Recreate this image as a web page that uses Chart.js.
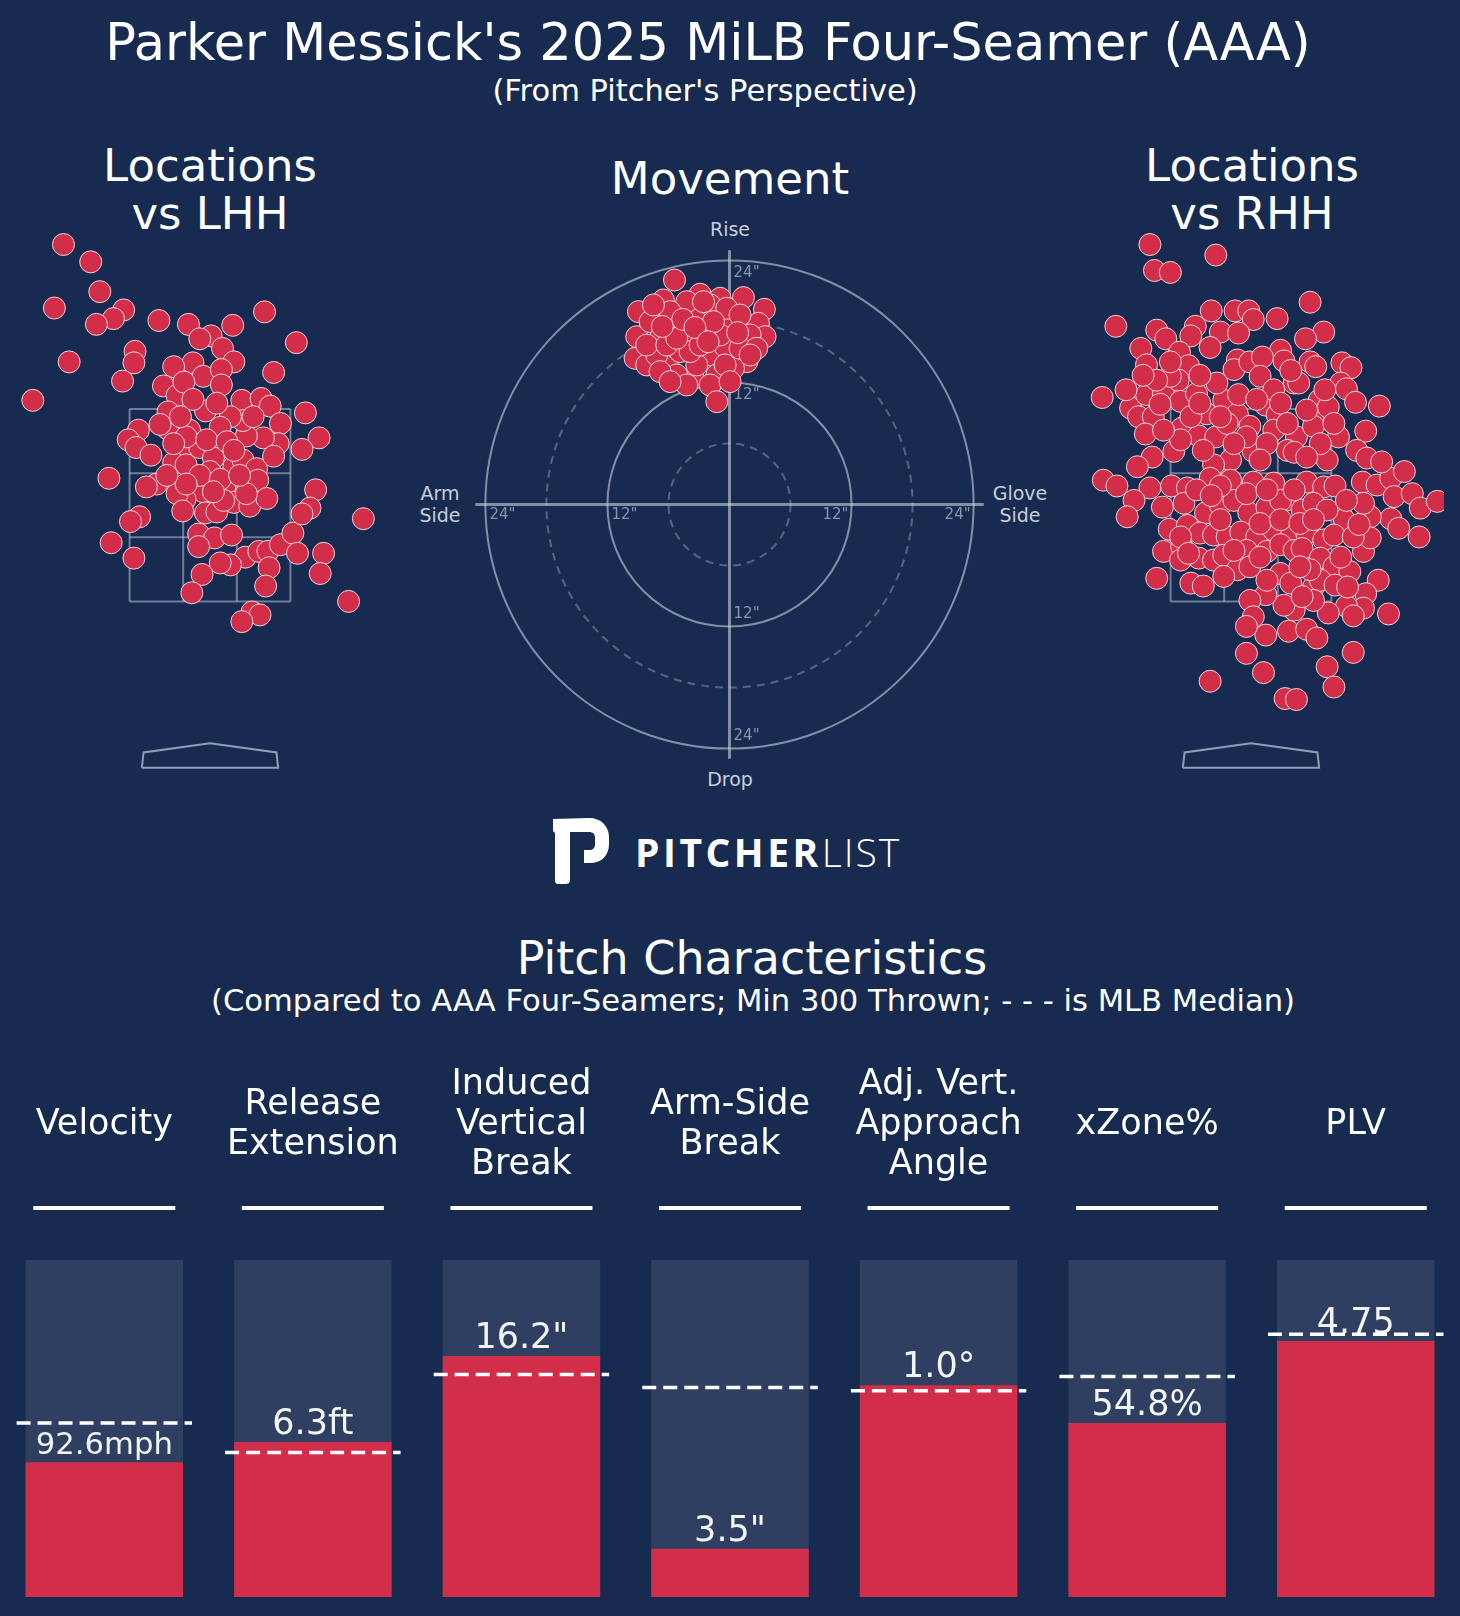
<!DOCTYPE html>
<html>
<head>
<meta charset="utf-8">
<title>Parker Messick Four-Seamer</title>
<script src="https://cdn.jsdelivr.net/npm/chart.js@4.4.1/dist/chart.umd.min.js"></script>
<style>
  body { margin: 0; background: #172a50; font-family: "DejaVu Sans", sans-serif; color: #fff; }
  #page { position: relative; width: 1460px; height: 1616px; overflow: hidden; background: #172a50; }
  .c { position: absolute; transform: translate(-50%, -50%); white-space: nowrap; text-align: center; }
  .box { position: absolute; }
  .axis-lbl { color: #c9cedb; font-size: 19px; line-height: 22px; }
  #logo { position: absolute; left: 553px; top: 818px; height: 66px; display: flex; align-items: center; }
  #logo span { font-family: "Open Sans", sans-serif; font-size: 39px; color: #fff; }
</style>
</head>
<body>
<div id="page">
  <div class="c" style="left:708px;top:42px;font-size:51px;">Parker Messick's 2025 MiLB Four-Seamer (AAA)</div>
  <div class="c" style="left:705px;top:90px;font-size:30.5px;">(From Pitcher's Perspective)</div>

  <div class="c" style="left:210px;top:190px;font-size:45px;line-height:48px;">Locations<br>vs LHH</div>
  <div class="c" style="left:730px;top:178px;font-size:45px;">Movement</div>
  <div class="c" style="left:1252px;top:190px;font-size:45px;line-height:48px;">Locations<br>vs RHH</div>

  <div class="c axis-lbl" style="left:730px;top:229px;">Rise</div>
  <div class="c axis-lbl" style="left:730px;top:779px;">Drop</div>
  <div class="c axis-lbl" style="left:440px;top:504px;">Arm<br>Side</div>
  <div class="c axis-lbl" style="left:1020px;top:504px;">Glove<br>Side</div>

  <div class="box" style="left:17px;top:225px;width:386px;height:565px;"><canvas id="lhh" width="386" height="565"></canvas></div>
  <div class="box" style="left:469px;top:244px;width:521px;height:521px;"><canvas id="move" width="521" height="521"></canvas></div>
  <div class="box" style="left:1058px;top:225px;width:386px;height:565px;"><canvas id="rhh" width="386" height="565"></canvas></div>

  <div id="logo">
    <svg width="56" height="66" viewBox="0 0 56 66">
      <path fill="#fff" d="M0 1 L36 0 C48 0 56 8 56 19 V26 C56 38 48 45 37 45 H31 V32 H36 C40 32 42 30 42 26 V20 C42 16 40 14 36 14 H17 V62 C17 65 15 66 12 66 H6 C3 66 2 65 2 62 V15 L0 13 Z"/>
    </svg>
    <span style="margin-left:26px;font-weight:700;letter-spacing:3.5px;">PITCHER</span><span style="font-weight:300;letter-spacing:2px;">LIST</span>
  </div>

  <div class="c" style="left:752px;top:958px;font-size:46px;">Pitch Characteristics</div>
  <div class="c" style="left:753px;top:1000px;font-size:30.6px;">(Compared to AAA Four-Seamers; Min 300 Thrown; - - - is MLB Median)</div>

  <div class="box" style="left:0px;top:1040px;width:1460px;height:576px;"><canvas id="bars" width="1460" height="576"></canvas></div>
</div>

<script>
// ---- data ----
// pitch locations vs LHH, [plate_x ft, plate_z ft]
const lhhPitches = [
  [-1.29,5.21],[-1.05,5.03],[-0.97,4.72],[-1.37,4.55],[-0.76,4.53],[-0.85,4.44],[-1.00,4.38],[-0.45,4.42],[-0.19,4.38],[-1.24,3.99],
  [-1.56,3.59],[-0.66,4.10],[-0.67,3.98],[-0.77,3.79],[0.48,4.51],[0.76,4.19],[0.56,3.88],[0.20,4.37],[0.01,4.26],[-0.09,4.23],
  [0.11,4.13],[0.21,3.99],[-0.15,3.98],[-0.06,3.84],[0.10,3.91],[0.10,3.75],[-0.32,3.94],[-0.41,3.74],[-0.29,3.64],[-0.23,3.78],
  [-0.37,3.47],[-0.04,3.48],[0.28,3.59],[0.45,3.61],[0.53,3.53],[0.62,3.35],[0.84,3.46],[0.96,3.20],[0.81,3.08],[0.60,3.14],
  [0.47,3.20],[0.32,3.22],[0.29,3.38],[0.18,3.42],[0.09,3.31],[-0.18,3.28],[-0.37,3.29],[-0.63,3.28],[-0.72,3.18],[-0.65,3.10],
  [-0.52,3.02],[-0.23,3.08],[-0.09,3.10],[0.03,2.99],[-0.32,2.94],[-0.21,2.92],[0.00,2.85],[0.21,2.90],[0.29,2.97],[0.41,2.88],
  [0.56,3.01],[0.42,2.76],[0.13,2.69],[-0.06,2.64],[-0.22,2.56],[-0.29,2.62],[-0.47,2.72],[-0.56,2.69],[-0.89,2.78],[-0.24,2.44],
  [-0.04,2.42],[0.06,2.43],[0.21,2.53],[0.35,2.49],[0.50,2.57],[0.32,2.62],[0.12,2.55],[-0.10,2.20],[0.04,2.16],[0.19,2.19],
  [-0.10,2.07],[-0.62,2.38],[-0.70,2.33],[-0.87,2.11],[-0.67,1.95],[0.31,1.96],[0.43,2.02],[0.51,2.02],[0.52,1.85],[0.49,1.66],
  [0.62,2.09],[0.73,2.21],[0.77,2.00],[0.93,2.66],[0.88,2.47],[0.81,2.41],[1.00,2.00],[0.97,1.79],[1.35,2.36],[1.22,1.50],
  [0.18,1.88],[0.09,1.90],[-0.07,1.78],[-0.16,1.59],[0.37,1.39],[0.44,1.36],[0.28,1.29],[-0.21,3.21],[-0.03,3.18],[0.15,3.16],
  [-0.09,2.81],[0.09,2.77],[-0.32,3.14],[-0.44,3.34],[0.21,3.07],[0.06,3.56],[-0.15,3.60],[-0.26,3.42],[0.38,3.42],[0.26,2.81],
  [-0.21,2.72],[-0.38,2.81],[0.03,2.64]
];

// pitch locations vs RHH, [plate_x ft, plate_z ft]
const rhhPitches = [
  [-0.89,5.21],[-0.85,4.94],[-0.71,4.92],[-0.31,5.10],[0.52,4.61],[-1.19,4.36],[0.23,4.44],[0.64,4.30],[0.48,4.23],
  [-0.35,4.52],[-0.14,4.52],[-0.02,4.52],[0.02,4.43],[-0.49,4.36],[-0.83,4.32],[-0.75,4.23],[-0.53,4.26],[-0.27,4.30],[-0.11,4.29],
  [-0.36,4.14],[-0.97,4.13],[-0.63,4.09],[-0.92,3.96],[-0.55,3.95],[-0.12,4.01],[-0.15,3.91],[-0.01,3.99],[0.26,4.11],[0.29,4.00],
  [0.10,4.04],[0.52,3.99],[0.57,3.94],[0.80,3.98],[0.88,3.93],[0.79,3.77],[0.84,3.71],[0.92,3.57],[1.13,3.53],[1.01,3.27],
  [-1.31,3.62],[-1.06,3.51],[-0.99,3.42],[-0.92,3.65],[-0.77,3.66],[-0.86,3.42],[-0.64,3.80],[-0.71,3.84],[-0.62,3.58],[-0.93,3.24],
  [-0.61,3.30],[-0.48,3.66],[-0.39,3.45],[-0.24,3.59],[-0.12,3.45],[-0.11,3.65],[0.13,3.54],[0.23,3.44],[0.38,3.77],[0.42,3.77],
  [0.60,3.59],[0.55,3.42],[0.68,3.52],[0.20,3.28],[0.40,3.21],[0.32,3.07],[0.55,3.32],[0.77,3.21],[0.93,3.07],[1.02,2.99],
  [0.67,2.97],[0.38,3.05],[0.02,3.06],[-0.18,2.97],[-0.33,2.92],[-0.68,3.06],[-0.87,3.00],[-0.46,3.22],[-0.31,3.21],[-0.01,3.32],
  [-0.30,3.77],[0.08,3.84],[0.20,3.70],[-0.71,3.99],[-0.83,3.80],[-0.53,3.42],[-0.21,3.35],[-0.04,3.21],[0.14,3.14],[0.26,3.56],
  [0.49,3.49],[0.61,3.14],[0.73,3.35],[-0.62,3.18],[-0.77,3.28],[-0.42,3.07],[-0.15,3.14],[0.08,2.97],[0.49,3.00],[0.32,3.35],
  [-0.27,3.42],[-0.45,3.56],
  [-1.30,2.76],[-1.18,2.70],[-0.89,2.68],[-1.03,2.55],[-1.09,2.38],[-0.78,2.48],[-0.70,2.70],[-0.56,2.68],[-0.36,2.78],[-0.18,2.76],
  [0.02,2.74],[0.20,2.73],[0.30,2.55],[0.45,2.45],[0.49,2.74],[0.64,2.69],[0.74,2.70],[0.82,2.35],[0.98,2.74],[1.11,2.71],
  [1.23,2.78],[1.26,2.59],[1.42,2.62],[1.49,2.47],[1.64,2.54],[1.23,2.36],[1.05,2.38],[1.48,2.17],[1.30,2.26],[0.99,2.52],
  [-0.59,2.52],[-0.40,2.42],[-0.27,2.50],[-0.15,2.55],[-0.02,2.42],[0.14,2.48],[0.26,2.55],[-0.72,2.25],[-0.56,2.29],[-0.45,2.21],
  [-0.33,2.19],[-0.21,2.17],[-0.09,2.22],[0.05,2.17],[0.20,2.24],[0.35,2.17],[0.49,2.21],[0.64,2.14],[0.73,2.19],[0.99,2.02],
  [1.05,2.16],[-0.77,2.02],[-0.61,2.07],[-0.46,1.95],[-0.33,1.93],[-0.24,1.98],[-0.12,1.83],[-0.04,2.03],[0.14,2.02],[0.26,2.09],
  [0.38,2.03],[0.45,2.05],[0.61,1.95],[0.73,1.86],[0.87,1.81],[1.12,1.72],[-0.83,1.74],[-0.62,1.93],[-0.53,1.69],[-0.42,1.66],
  [-0.24,1.76],[-0.01,1.86],[0.26,1.79],[0.35,1.69],[0.55,1.65],[0.61,1.72],[0.74,1.67],[1.01,1.58],[0.99,1.43],[0.84,1.45],
  [0.68,1.38],[0.55,1.51],[0.38,1.41],[0.29,1.46],[0.13,1.57],[-0.01,1.51],[0.02,1.34],[0.13,1.15],[0.33,1.19],[0.49,1.21],
  [0.58,1.12],[-0.04,1.24],[1.21,1.37],[0.90,1.35],[-0.04,0.96],[0.11,0.76],[-0.36,0.67],[0.67,0.82],[0.90,0.97],[0.73,0.61],
  [0.30,0.49],[0.40,0.48],
  [-0.48,2.66],[-0.27,2.70],[-0.04,2.62],[0.14,2.66],[0.38,2.66],[0.55,2.52],[0.67,2.45],[0.84,2.55],[0.08,2.31],[0.26,2.35],
  [0.43,2.31],[0.55,2.35],[-0.27,2.35],[-0.62,2.17],[-0.15,2.03],[0.08,1.96],[0.52,1.83],[0.79,1.96],[0.90,2.17],[0.14,1.72],
  [0.43,1.86],[-0.95,3.85],[-1.10,3.70],[-0.45,3.85],[0.05,3.60],[0.35,3.90],[0.65,3.70],[-0.80,3.55],[-1.00,2.90],[-0.35,2.60],
  [1.15,2.95],[1.35,2.85],[0.95,2.30],[-0.55,2.00],[0.45,1.55],[0.85,1.65]
];

// movement, [horizontal break in, induced vertical break in]
const movePitches = [
  [-5.41,22.07],[-2.89,20.67],[1.37,20.34],[3.43,19.19],[-8.95,18.96],[-6.50,20.11],[-0.92,20.27],[2.84,17.81],[3.50,16.50],[-9.12,16.50],
  [-9.28,14.37],[-8.14,13.72],[-6.00,13.55],[-1.91,14.70],[-0.43,15.52],[-3.87,16.50],[-5.51,17.65],[-3.22,18.47],[0.39,17.98],[2.03,16.67],
  [1.70,14.04],[0.39,13.39],[-1.25,12.73],[-3.55,12.41],[-5.19,12.73],[-7.15,14.70],[-7.81,17.98],[-4.20,19.94],[-1.91,19.62],[-0.27,19.29],
  [-6.82,16.34],[-4.86,15.03],[-2.56,16.99],[-0.92,16.67],[1.04,15.36],[-3.22,13.72],[-4.20,11.75],[-1.91,11.75],[-1.25,10.11],[-8.14,15.68],
  [-5.84,18.96],[2.68,15.36],[-3.87,15.03],[-6.17,15.68],[-2.56,19.94],[-1.58,17.98],[-5.19,16.34],[-0.43,13.72],[-6.82,13.06],[-2.89,15.68],
  [1.04,18.63],[-7.48,19.62],[2.03,14.70],[0.06,12.08],[-5.84,12.08],[-4.60,18.20],[-3.40,17.40],[-6.60,17.50],[-2.10,16.00],[0.80,16.90]
];

// strike zone and plate outline (ft)
const zoneX = [-0.708, -0.236, 0.236, 0.708];
const zoneZ = [1.5, 2.167, 2.833, 3.5];
const plateX = [-0.60, -0.585, 0, 0.585, 0.60, -0.60];
const plateZ = [-0.23, -0.07, 0.025, -0.07, -0.23, -0.23];

// movement rings (in)
const ringRadii = [6, 12, 18, 24];
const ringDashed = [true, false, true, false];
const ringLabels = [12, 24];
const axisReach = 25;

// pitch characteristics
const metricNames = [["Velocity"], ["Release", "Extension"], ["Induced", "Vertical", "Break"], ["Arm-Side", "Break"],
  ["Adj. Vert.", "Approach", "Angle"], ["xZone%"], ["PLV"]];
const metricValues = ['92.6mph', '6.3ft', '16.2"', '3.5"', '1.0°', '54.8%', '4.75'];
const percentiles = [40, 46, 71.5, 14.3, 62.8, 51.6, 76];
const mlbMedians = [51.6, 42.9, 66, 62.2, 61.2, 65.4, 78];

// ---- style ----
const RED = '#d22e4a';
const EDGE = 'rgba(255,228,234,0.9)';
const GRAY_BAR = '#2e3f61';
const LINE = 'rgba(205,211,224,0.6)';
const FONT = '"DejaVu Sans", sans-serif';

Chart.defaults.font.family = FONT;
Chart.defaults.animation = false;

const baseOptions = {
  responsive: false,
  devicePixelRatio: 1,
  events: [],
  layout: { padding: 0, autoPadding: false },
  plugins: { legend: { display: false }, tooltip: { enabled: false } }
};

function pointSet(pitches) {
  return {
    type: 'scatter',
    data: pitches.map(p => ({ x: p[0], y: p[1] })),
    pointRadius: 11,
    backgroundColor: RED,
    borderColor: EDGE,
    borderWidth: 1
  };
}

function lineSet(points, color, width) {
  return { type: 'line', data: points, borderColor: color, borderWidth: width, pointRadius: 0, fill: false, tension: 0 };
}

function locationChart(id, pitches) {
  const datasets = [pointSet(pitches)];
  const zc = 'rgba(200,207,222,0.5)';
  zoneX.forEach(x => datasets.push(lineSet([{ x, y: zoneZ[0] }, { x, y: zoneZ[3] }], zc, 2)));
  zoneZ.forEach(z => datasets.push(lineSet([{ x: zoneX[0], y: z }, { x: zoneX[3], y: z }], zc, 2)));
  datasets.push(lineSet(plateX.map((x, i) => ({ x, y: plateZ[i] })), 'rgba(200,207,222,0.7)', 2));

  new Chart(document.getElementById(id), {
    type: 'scatter',
    data: { datasets },
    options: {
      ...baseOptions,
      scales: {
        x: { type: 'linear', display: false, min: -1.699, max: 1.699 },
        y: { type: 'linear', display: false, min: -0.4605, max: 5.413 }
      }
    }
  });
}

locationChart('lhh', lhhPitches);
locationChart('rhh', rhhPitches);

// rings + ring labels for the movement plot
const ringPlugin = {
  id: 'rings',
  beforeDatasetsDraw(chart) {
    const { ctx, scales: { x, y } } = chart;
    const cx = x.getPixelForValue(0), cy = y.getPixelForValue(0);
    ctx.save();
    ringRadii.forEach((r, i) => {
      const rad = x.getPixelForValue(r) - cx;
      ctx.beginPath();
      ctx.arc(cx, cy, rad, 0, Math.PI * 2);
      ctx.lineWidth = 2;
      if (ringDashed[i]) {
        ctx.setLineDash([8, 6]);
        ctx.strokeStyle = 'rgba(160,172,196,0.45)';
      } else {
        ctx.setLineDash([]);
        ctx.strokeStyle = LINE;
      }
      ctx.stroke();
    });
    ctx.setLineDash([]);
    ctx.fillStyle = '#8a95ab';
    ctx.font = '15px ' + FONT;
    ctx.textBaseline = 'middle';
    ringLabels.forEach(r => {
      const t = r + '"';
      ctx.textAlign = 'left';
      ctx.fillText(t, x.getPixelForValue(0.4), y.getPixelForValue(r - 1.25));
      ctx.fillText(t, x.getPixelForValue(0.4), y.getPixelForValue(-(r - 1.25)));
      ctx.fillText(t, x.getPixelForValue(-(r - 0.4)), y.getPixelForValue(-1.0));
      ctx.textAlign = 'right';
      ctx.fillText(t, x.getPixelForValue(r - 0.3), y.getPixelForValue(-1.0));
    });
    ctx.restore();
  }
};

new Chart(document.getElementById('move'), {
  type: 'scatter',
  data: {
    datasets: [
      pointSet(movePitches),
      lineSet([{ x: -axisReach, y: 0 }, { x: axisReach, y: 0 }], LINE, 3),
      lineSet([{ x: 0, y: -axisReach }, { x: 0, y: axisReach }], LINE, 3)
    ]
  },
  options: {
    ...baseOptions,
    scales: {
      x: { type: 'linear', display: false, min: -25.61, max: 25.61 },
      y: { type: 'linear', display: false, min: -25.61, max: 25.61 }
    }
  },
  plugins: [ringPlugin]
});

// headers, medians and value labels for the bar panel
const barExtras = {
  id: 'barExtras',
  afterDatasetsDraw(chart) {
    const { ctx, chartArea } = chart;
    const y = chart.scales.y;
    const bars = chart.getDatasetMeta(0).data;
    ctx.save();
    ctx.textAlign = 'center';
    bars.forEach((bar, i) => {
      const half = bar.width / 2;
      // header text, centred on one line position
      const lines = metricNames[i];
      ctx.fillStyle = '#fff';
      ctx.font = '35px ' + FONT;
      ctx.textBaseline = 'middle';
      lines.forEach((t, j) => {
        ctx.fillText(t, bar.x, chartArea.top - 135 + (j - (lines.length - 1) / 2) * 40.4);
      });
      // header underline
      ctx.strokeStyle = '#fff';
      ctx.lineWidth = 4;
      ctx.setLineDash([]);
      ctx.beginPath();
      ctx.moveTo(bar.x - 71, chartArea.top - 52);
      ctx.lineTo(bar.x + 71, chartArea.top - 52);
      ctx.stroke();
      // value label, shrunk to fit the bar
      let size = 35;
      const w = ctx.measureText(metricValues[i]).width;
      if (w > bar.width * 0.87) {
        size = size * bar.width * 0.87 / w;
        ctx.font = size.toFixed(1) + 'px ' + FONT;
      }
      ctx.fillStyle = '#f4f4f6';
      ctx.textBaseline = 'alphabetic';
      ctx.fillText(metricValues[i], bar.x, bar.y - 8);
      // MLB median
      const my = y.getPixelForValue(mlbMedians[i]);
      ctx.setLineDash([14, 7]);
      ctx.lineWidth = 3.5;
      ctx.beginPath();
      ctx.moveTo(bar.x - half - 9, my);
      ctx.lineTo(bar.x + half + 9, my);
      ctx.stroke();
    });
    ctx.restore();
  }
};

new Chart(document.getElementById('bars'), {
  type: 'bar',
  data: {
    labels: metricNames.map(l => l.join(' ')),
    datasets: [
      { data: percentiles, backgroundColor: RED, barPercentage: 0.755, categoryPercentage: 1, grouped: false },
      { data: metricNames.map(() => 100), backgroundColor: GRAY_BAR, barPercentage: 0.755, categoryPercentage: 1, grouped: false }
    ]
  },
  options: {
    ...baseOptions,
    layout: { padding: { top: 220, bottom: 19, left: 0, right: 0 }, autoPadding: false },
    scales: {
      x: { display: false },
      y: { display: false, min: 0, max: 100 }
    }
  },
  plugins: [barExtras]
});
</script>
</body>
</html>
